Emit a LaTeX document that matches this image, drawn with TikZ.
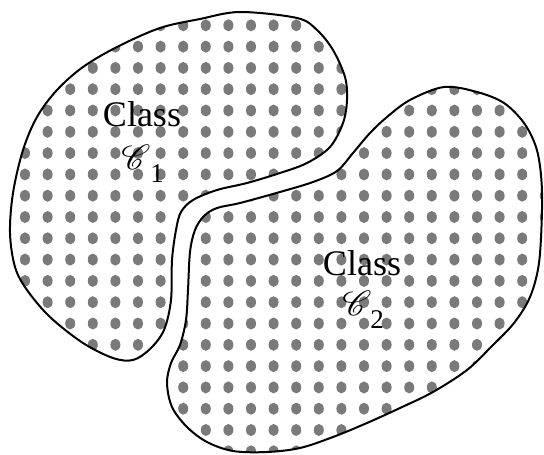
\documentclass[tikz,border=0pt]{standalone}
\usepackage{fontspec}
\setmainfont{Liberation Serif}
\usepackage{mathrsfs}

\begin{document}
\begin{tikzpicture}[
        x=1pt, y=-1pt,
        every node/.style={font=\fontsize{36}{40}\selectfont, inner sep=0pt},
        outline/.style={draw=black, line width=2pt},
        dot/.style={fill=black!52},
        sym/.style={font=\fontsize{24.88}{25}\usefont{U}{rsfs}{m}{n}},
        sub/.style={font=\fontsize{27}{27}\selectfont},
        classone/.style={insert path={plot[smooth cycle, tension=0.55] coordinates {
            (240,12) (297,18) (317,30) (333,50) (345,77) (347,100) (343,123) (330,147)
            (307,163) (280,173) (247,183) (217,190) (193,200) (181,212) (176,230)
            (172,260) (171,300) (164,330) (150,349) (133,360) (113,358) (83,343)
            (50,317) (27,290) (15,267) (10,233) (13,193) (23,150) (37,117) (57,90)
            (83,67) (117,47) (160,28) (200,19)}}},
        classtwo/.style={insert path={plot[smooth cycle, tension=0.55] coordinates {
            (217,208) (240,203) (280,192) (313,182) (337,171) (353,153) (370,133)
            (387,117) (410,100) (444,87) (477,92) (504,103) (524,123) (536,147)
            (541,175) (542,210) (539,263) (530,297) (514,323) (491,347) (467,370)
            (433,392) (400,408) (367,423) (333,437) (300,448) (267,452) (233,451)
            (207,442) (187,427) (172,407) (167,383) (171,363) (180,345) (186,320)
            (188,290) (190,252) (195,230) (204,216)}}},
    ]
    \useasboundingbox (0,0) rectangle (544,455);

    \begin{scope}
        \clip[classone];
        \foreach \i in {0,...,23}
            \foreach \j in {0,...,21}
                \fill[dot] ({25+22.6*\i},{4+21.3*\j}) ellipse [x radius=5pt, y radius=6pt];
    \end{scope}
    \begin{scope}
        \clip[classtwo];
        \foreach \i in {0,...,23}
            \foreach \j in {0,...,21}
                \fill[dot] ({25+22.6*\i},{4+21.3*\j}) ellipse [x radius=5pt, y radius=6pt];
    \end{scope}
    \draw[outline, classone];
    \draw[outline, classtwo];

    \node[anchor=base] (nameone) at (142,126) {Class};
    \node[sym, anchor=base] (symone) at (133,169) {\scalebox{1.4}{C}};
    \node[sub, anchor=base] (subone) at (157,182) {1};
    \node[anchor=base] (nametwo) at (362,275) {Class};
    \node[sym, anchor=base] (symtwo) at (354,315) {\scalebox{1.4}{C}};
    \node[sub, anchor=base] (subtwo) at (377,328) {2};

\end{tikzpicture}
\end{document}
